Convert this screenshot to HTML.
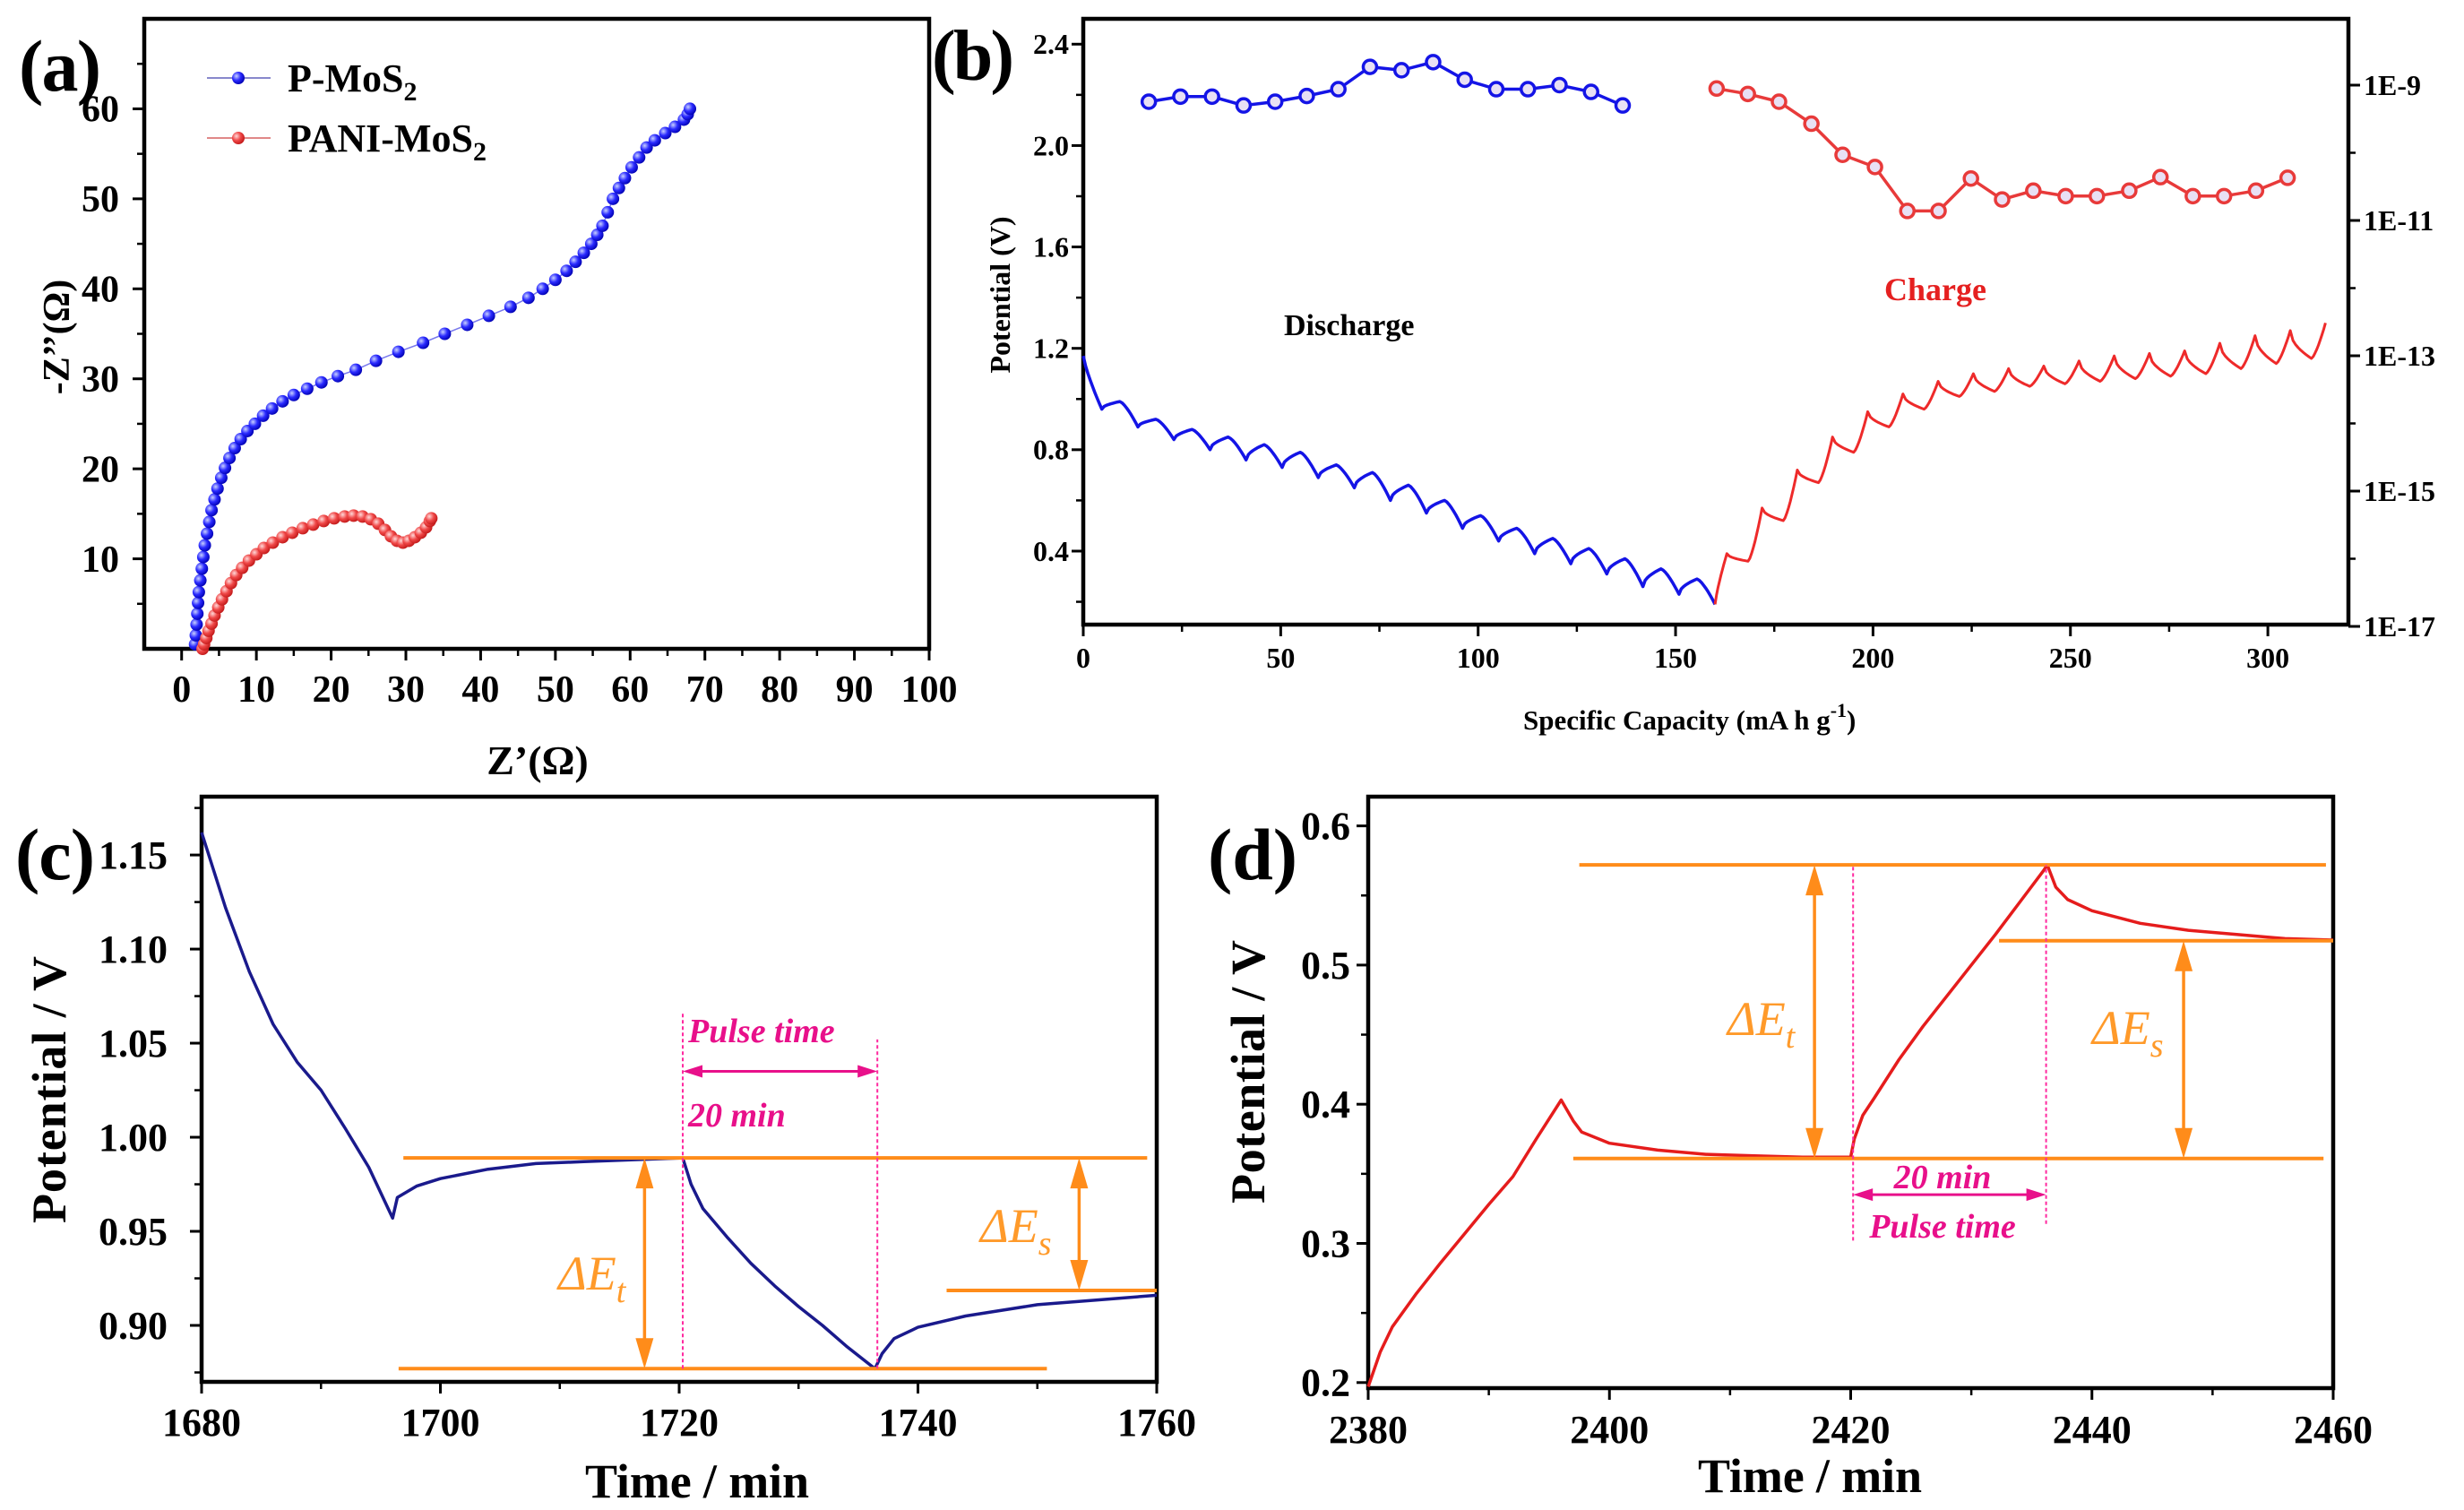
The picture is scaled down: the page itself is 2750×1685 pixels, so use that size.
<!DOCTYPE html>
<html><head><meta charset="utf-8"><style>
html,body{margin:0;padding:0;background:#fff;}
svg{display:block;}
text{font-family:"Liberation Serif",serif;}
</style></head><body>
<svg id="fig" xmlns="http://www.w3.org/2000/svg" width="2750" height="1685" viewBox="0 0 2750 1685">
<rect width="2750" height="1685" fill="#fff"/>
<defs>
<radialGradient id="gb" cx="0.35" cy="0.35" r="0.7"><stop offset="0" stop-color="#c8d0ff"/><stop offset="0.5" stop-color="#2a2aff"/><stop offset="1" stop-color="#0000b0"/></radialGradient>
<radialGradient id="gr" cx="0.35" cy="0.35" r="0.7"><stop offset="0" stop-color="#ffd8d8"/><stop offset="0.5" stop-color="#f04848"/><stop offset="1" stop-color="#c01818"/></radialGradient>
</defs>
</svg>
<script>
// ---------- Panel (a) data ----------
const aBlueX=[1.8,1.9,2.0,2.1,2.2,2.3,2.5,2.7,2.9,3.1,3.4,3.7,4.0,4.4,4.8,5.3,5.8,6.4,7.1,7.9,8.8,9.8,10.9,12.1,13.5,15.0,16.8,18.7,20.9,23.3,26.0,29.0,32.3,35.2,38.2,41.1,44.0,46.4,48.3,50.0,51.5,52.7,53.8,54.8,55.6,56.3,57.0,57.7,58.5,59.3,60.2,61.2,62.2,63.3,64.7,66.0,67.2,67.7,68.0];
const aBlueY=[0.5,1.5,2.7,3.9,5.1,6.3,7.6,8.9,10.2,11.5,12.8,14.1,15.4,16.6,17.8,19.0,20.1,21.2,22.3,23.3,24.2,25.0,25.9,26.7,27.5,28.2,28.9,29.6,30.3,31.0,32.0,33.0,34.0,35.0,36.0,37.0,38.0,39.0,40.0,41.0,42.0,43.0,44.0,45.0,46.0,47.0,48.5,50.0,51.2,52.3,53.5,54.6,55.7,56.5,57.3,58.0,58.8,59.4,60.0];
const aRedX=[2.8,3.0,3.3,3.6,4.0,4.4,4.9,5.4,6.0,6.6,7.3,8.1,9.0,10.0,11.0,12.2,13.5,14.8,16.2,17.6,19.0,20.4,21.8,23.0,24.2,25.3,26.3,27.2,28.0,28.8,29.6,30.4,31.2,32.0,32.7,33.2,33.4];
const aRedY=[0,0.5,1.2,2.0,2.8,3.7,4.6,5.5,6.4,7.3,8.2,9.0,9.8,10.5,11.2,11.8,12.4,12.9,13.4,13.8,14.2,14.5,14.7,14.8,14.7,14.4,13.9,13.2,12.5,12.0,11.8,12.0,12.4,12.9,13.5,14.2,14.5];
const aXTicks=[0,10,20,30,40,50,60,70,80,90,100];
const aYTicks=[10,20,30,40,50,60];
// ---------- Panel (b) data ----------
const bDisTrough=[0.96,0.89,0.84,0.80,0.76,0.73,0.69,0.65,0.60,0.55,0.49,0.44,0.39,0.35,0.31,0.26,0.23,0.19];
const bDisRelax=[0.99,0.92,0.88,0.85,0.82,0.79,0.74,0.71,0.66,0.60,0.54,0.49,0.45,0.41,0.37,0.33,0.29];
const bChgPeak=[0.39,0.57,0.72,0.85,0.95,1.02,1.07,1.10,1.12,1.13,1.15,1.17,1.18,1.19,1.22,1.25,1.27,1.30];
const bChgRelax=[0.36,0.52,0.67,0.79,0.89,0.96,1.01,1.03,1.05,1.06,1.07,1.08,1.09,1.10,1.12,1.14,1.16];
const bDisCap=[16.6,24.6,32.6,40.6,48.6,56.6,64.6,72.6,80.6,88.6,96.6,104.6,112.6,120.6,128.6,136.6];
const bDisLogD=[-9.245,-9.17,-9.17,-9.30,-9.245,-9.16,-9.06,-8.73,-8.78,-8.66,-8.92,-9.06,-9.06,-9.00,-9.10,-9.30];
const bChgCap=[160.4,168.3,176.2,184.4,192.3,200.5,208.7,216.6,224.8,232.7,240.6,248.8,256.7,264.9,272.8,281.0,288.9,297.0,305.0];
const bChgLogD=[-9.05,-9.13,-9.245,-9.57,-10.03,-10.21,-10.86,-10.86,-10.38,-10.69,-10.56,-10.64,-10.64,-10.56,-10.36,-10.64,-10.64,-10.56,-10.37];
const bXTicks=[0,50,100,150,200,250,300];
const bYTicks=[0.4,0.8,1.2,1.6,2.0,2.4];
const bYTickLabels=["0.4","0.8","1.2","1.6","2.0","2.4"];
const bLogTicks=[-17,-15,-13,-11,-9];
const bLogLabels=["1E-17","1E-15","1E-13","1E-11","1E-9"];
// ---------- Panel (c) data ----------
const cTime=[1680,1682,1684,1686,1688,1690,1692,1694,1696,1696.4,1698,1700,1704,1708,1712,1716,1720.3,1721,1722,1724,1726,1728,1730,1732,1734,1736.4,1737,1738,1740,1744,1750,1756,1760];
const cVolt=[1.162,1.122,1.088,1.06,1.04,1.025,1.005,0.984,0.957,0.968,0.974,0.978,0.983,0.986,0.987,0.988,0.989,0.975,0.962,0.947,0.933,0.921,0.910,0.900,0.889,0.877,0.885,0.893,0.899,0.905,0.911,0.914,0.916];
const cXTicks=[1680,1700,1720,1740,1760];
const cYTicks=[0.90,0.95,1.00,1.05,1.10,1.15];
const cYTickLabels=["0.90","0.95","1.00","1.05","1.10","1.15"];
// ---------- Panel (d) data ----------
const dTime=[2380,2381,2382,2384,2386,2388,2390,2392,2394,2396,2397,2397.7,2400,2404,2408,2412,2416,2420,2420.3,2421,2422,2424,2426,2428,2430,2432,2434,2436,2436.3,2437,2438,2440,2444,2448,2452,2456,2460];
const dVolt=[0.197,0.222,0.240,0.264,0.286,0.307,0.328,0.348,0.376,0.403,0.388,0.380,0.372,0.367,0.364,0.363,0.362,0.362,0.375,0.392,0.405,0.432,0.456,0.478,0.500,0.522,0.545,0.568,0.572,0.556,0.547,0.539,0.530,0.525,0.522,0.519,0.518];
const dXTicks=[2380,2400,2420,2440,2460];
const dYTicks=[0.2,0.3,0.4,0.5,0.6];

const NS='http://www.w3.org/2000/svg';
const svg=document.getElementById('fig');
function mk(tag,attrs,parent){const e=document.createElementNS(NS,tag);for(const k in attrs)e.setAttribute(k,attrs[k]);parent.appendChild(e);return e;}
function lin(d0,d1,r0,r1){return v=>r0+(v-d0)*(r1-r0)/(d1-d0);}
function pathFrom(xs,ys,X,Y){return xs.map((x,i)=>(i?'L':'M')+X(x).toFixed(1)+' '+Y(ys[i]).toFixed(1)).join(' ');}
function text(parent,str,attrs){const t=mk('text',attrs,parent);t.textContent=str;return t;}

function axisBox(g,x0,x1,y0,y1){
  const r=mk('rect',{x:x0,y:y0,width:x1-x0,height:y1-y0,fill:'none',stroke:'#000','stroke-width':4.5},g);
  
  
}
function xTicks(g,X,yb,vals,labels,fs,base,minor){
  vals.forEach((v,i)=>{
    const l=mk('line',{x1:X(v),x2:X(v),y1:yb,y2:yb+13,stroke:'#000','stroke-width':3},g);
    
    
    if(labels){const t=text(g,labels[i],{x:X(v),y:base,'text-anchor':'middle','font-size':fs,'font-weight':'bold'});
    
    }
  });
  (minor||[]).forEach(v=>{const l=mk('line',{x1:X(v),x2:X(v),y1:yb,y2:yb+8,stroke:'#000','stroke-width':2.5},g);
    
    });
}
function yTicks(g,Y,xl,vals,labels,fs,endX,minor,dir){
  dir=dir||-1;
  vals.forEach((v,i)=>{
    const l=mk('line',{x1:xl,x2:xl+dir*13,y1:Y(v),y2:Y(v),stroke:'#000','stroke-width':3},g);
    
    
    if(labels){const t=text(g,labels[i],{x:endX,y:Y(v)+fs*0.34,'text-anchor':dir<0?'end':'start','font-size':fs,'font-weight':'bold'});
    
    }
  });
  (minor||[]).forEach(v=>{const l=mk('line',{x1:xl,x2:xl+dir*8,y1:Y(v),y2:Y(v),stroke:'#000','stroke-width':2.5},g);
    
    });
}
function range(a,b,s){const r=[];for(let v=a;v<=b+1e-9;v+=s)r.push(+v.toFixed(4));return r;}

// ================= Panel A =================
(function(){
  const g=mk('g',{},svg);
  
  
  const X=lin(-5,100,161,1037),Y=lin(0,70,724,21);
  axisBox(g,161,1037,21,724);
  xTicks(g,X,724,aXTicks,aXTicks.map(String),42,783,range(5,95,10));
  yTicks(g,Y,161,aYTicks,aYTicks.map(String),42,133,range(5,65,5).filter(v=>v%10));
  const series=[[aBlueX,aBlueY,'url(#gb)','#2020e0','p-mos2'],[aRedX,aRedY,'url(#gr)','#e03030','pani-mos2']];
  series.forEach(s=>{
    const sg=mk('g',{},g);
    
    
    const p=mk('path',{d:pathFrom(s[0],s[1],X,Y),fill:'none',stroke:s[3],'stroke-width':1.5,opacity:0.6},sg);
    
    
    s[0].forEach((x,i)=>{const c=mk('circle',{cx:X(x),cy:Y(s[1][i]),r:7,fill:s[2]},sg);
      
      });
  });
  [[87,'url(#gb)','#8888cc','P-MoS','legend-p-mos2'],[154,'url(#gr)','#e08888','PANI-MoS','legend-pani-mos2']].forEach(L=>{
    const lg=mk('g',{},g);
    
    
    mk('line',{x1:231,x2:302,y1:L[0],y2:L[0],stroke:L[2],'stroke-width':2},lg);
    mk('circle',{cx:266,cy:L[0],r:7,fill:L[1]},lg);
    const t=text(lg,L[3],{x:321,y:L[0]+15,'font-size':44,'font-weight':'bold'});
    const sub=mk('tspan',{dy:10,'font-size':30},t);sub.textContent='2';
  });
  const xt=text(g,'Z’(Ω)',{x:600,y:864,'text-anchor':'middle','font-size':46,'font-weight':'bold'});
  
  
  const yt=text(g,'-Z’’(Ω)',{x:0,y:0,'text-anchor':'middle','font-size':42,'font-weight':'bold',transform:'translate(77,376) rotate(-90)'});
  
  
  const pl=text(g,'(a)',{x:21,y:101,'font-size':82,'font-weight':'bold',textLength:92});
  
  
})();

// zigzag: ext1[k] at x=firstX+k*w, ext2[k] at x=firstX+(k+frac)*w
function zigzag(X,Y,startX,startV,firstX,w,ext1,ext2,frac){
  let d='M'+X(startX).toFixed(1)+' '+Y(startV).toFixed(1);
  for(let j=1;j<=8;j++){const t=j/8;d+=' L'+X(startX+(firstX-startX)*t).toFixed(1)+' '+Y(startV+(ext1[0]-startV)*Math.pow(t,0.8)).toFixed(1);}
  for(let k=0;k<ext2.length;k++){
    const x0=firstX+k*w,v0=ext1[k],v1=ext2[k],v2=ext1[k+1];
    for(let j=1;j<=8;j++){const t=j/8;d+=' L'+X(x0+frac*w*t).toFixed(1)+' '+Y(v0+(v1-v0)*Math.sqrt(t)).toFixed(1);}
    for(let j=1;j<=8;j++){const t=j/8;d+=' L'+X(x0+frac*w+(1-frac)*w*t).toFixed(1)+' '+Y(v1+(v2-v1)*Math.pow(t,1.4)).toFixed(1);}
  }
  return d;
}

// ================= Panel B =================
(function(){
  const g=mk('g',{},svg);
  
  
  const X=lin(0,320.4,1209,2621),Y=lin(0.11,2.50,697,21),L=lin(-17,-9,699,95);
  axisBox(g,1209,2621,21,697);
  xTicks(g,X,697,bXTicks,bXTicks.map(String),32,745,range(25,300,50));
  yTicks(g,Y,1209,bYTicks,bYTickLabels,32,1193,range(0.2,2.4,0.4));
  yTicks(g,L,2621,bLogTicks,bLogLabels,32,2638,[-16,-14,-12,-10],1);
  const wd=(160-4.7)/(bDisTrough.length-1);
  const pd=mk('path',{d:zigzag(X,Y,0,1.17,4.7,wd,bDisTrough,bDisRelax,0.5),fill:'none',stroke:'#1414e6','stroke-width':3.5,'stroke-linejoin':'round'},g);
  
  
  const wc=(314.6-163)/(bChgPeak.length-1);
  const pc=mk('path',{d:zigzag(X,Y,160,0.19,163,wc,bChgPeak,bChgRelax,0.6),fill:'none',stroke:'#ee2a2a','stroke-width':3,'stroke-linejoin':'round'},g);
  
  
  [[bDisCap,bDisLogD,'#1414e6','discharge-diffusion'],[bChgCap,bChgLogD,'#e83a3a','charge-diffusion']].forEach(s=>{
    const sg=mk('g',{},g);
    
    
    mk('path',{d:pathFrom(s[0],s[1],X,L),fill:'none',stroke:s[2],'stroke-width':3.5},sg);
    s[0].forEach((x,i)=>{const c=mk('circle',{cx:X(x),cy:L(s[1][i]),r:7.5,fill:'#e8e0f4',stroke:s[2],'stroke-width':3.5},sg);
      
      });
  });
  const t1=text(g,'Discharge',{x:1433,y:374,'font-size':34,'font-weight':'bold'});
  
  
  const t2=text(g,'Charge',{x:2103,y:335,'font-size':36,'font-weight':'bold',fill:'#e52020'});
  
  
  const xt=text(g,'Specific Capacity (mA h g',{x:1700,y:814,'font-size':31,'font-weight':'bold'});
  const sp=mk('tspan',{dy:-14,'font-size':22},xt);sp.textContent='-1';
  const sp2=mk('tspan',{dy:14},xt);sp2.textContent=')';
  
  
  const yt=text(g,'Potential (V)',{x:0,y:0,'text-anchor':'middle','font-size':32,'font-weight':'bold',transform:'translate(1127,329) rotate(-90)'});
  
  
  const pl=text(g,'(b)',{x:1040,y:89,'font-size':80,'font-weight':'bold',textLength:92});
  
  
})();

function arrowV(g,x,y1,y2,col,name){
  const a=mk('g',{},g);
  
  
  mk('line',{x1:x,x2:x,y1:y1+20,y2:y2-20,stroke:col,'stroke-width':3.5},a);
  mk('polygon',{points:`${x},${y1} ${x-10},${y1+34} ${x+10},${y1+34}`,fill:col},a);
  mk('polygon',{points:`${x},${y2} ${x-10},${y2-34} ${x+10},${y2-34}`,fill:col},a);
}
function arrowH(g,x1,x2,y,col,name){
  const a=mk('g',{},g);
  
  
  mk('line',{x1:x1+10,x2:x2-10,y1:y,y2:y,stroke:col,'stroke-width':3},a);
  mk('polygon',{points:`${x1},${y} ${x1+22},${y-7} ${x1+22},${y+7}`,fill:col},a);
  mk('polygon',{points:`${x2},${y} ${x2-22},${y-7} ${x2-22},${y+7}`,fill:col},a);
}
function hline(g,X,Y,xa,xb,v,name){
  const l=mk('line',{x1:X(xa),x2:X(xb),y1:Y(v),y2:Y(v),stroke:'#ff8c1a','stroke-width':4},g);
  
  
}
function vdash(g,X,Y,x,va,vb,name){
  const l=mk('line',{x1:X(x),x2:X(x),y1:Y(va),y2:Y(vb),stroke:'#ff2aa0','stroke-width':2,'stroke-dasharray':'4 3'},g);
  
  
}
function dlabel(g,x,y,sub,name){
  const t=text(g,'ΔE',{x:x,y:y,'font-size':54,'font-style':'italic',fill:'#ff9a2a'});
  const s=mk('tspan',{dy:14,'font-size':38},t);s.textContent=sub;
  
  
}
function mlabel(g,str,x,y,anchor,name){
  const t=text(g,str,{x:x,y:y,'font-size':38,'font-style':'italic','font-weight':'bold',fill:'#e8108a','text-anchor':anchor});
  
  
}

// ================= Panel C =================
(function(){
  const g=mk('g',{},svg);
  
  
  const X=lin(1680,1760,225,1291),Y=lin(0.870,1.181,1542,889);
  axisBox(g,225,1291,889,1542);
  xTicks(g,X,1542,cXTicks,cXTicks.map(String),44,1602,range(1690,1750,20));
  yTicks(g,Y,225,cYTicks,cYTickLabels,44,187,range(0.875,1.175,0.05));
  const p=mk('path',{d:pathFrom(cTime,cVolt,X,Y),fill:'none',stroke:'#1a1a8c','stroke-width':3.5,'stroke-linejoin':'round'},g);
  
  
  hline(g,X,Y,1696.9,1759.2,0.989,'top-reference-line');
  hline(g,X,Y,1696.5,1750.8,0.877,'bottom-reference-line');
  hline(g,X,Y,1742.4,1760,0.9186,'relaxed-reference-line');
  vdash(g,X,Y,1720.3,0.877,1.066,'pulse-start-line');
  vdash(g,X,Y,1736.6,0.877,1.052,'pulse-end-line');
  arrowH(g,X(1720.3),X(1736.6),Y(1.035),'#e8108a','pulse-time-arrow');
  arrowV(g,X(1717.1),Y(0.989),Y(0.877),'#ff8c1a','delta-et-arrow');
  arrowV(g,X(1753.5),Y(0.989),Y(0.9186),'#ff8c1a','delta-es-arrow');
  dlabel(g,623,1439,'t','delta-et-label');
  dlabel(g,1094,1386,'s','delta-es-label');
  mlabel(g,'Pulse time',768,1163,'start','pulse-time-label');
  mlabel(g,'20 min',768,1257,'start','pulse-duration-label');
  const xt=text(g,'Time / min',{x:778,y:1671,'text-anchor':'middle','font-size':54,'font-weight':'bold',textLength:250});
  
  
  const yt=text(g,'Potential  / V',{x:0,y:0,'text-anchor':'middle','font-size':54,'font-weight':'bold',transform:'translate(73,1216) rotate(-90)',textLength:298});
  
  
  const pl=text(g,'(c)',{x:17,y:981,'font-size':82,'font-weight':'bold',textLength:89});
  
  
})();

// ================= Panel D =================
(function(){
  const g=mk('g',{},svg);
  
  
  const X=lin(2380,2460,1527,2604),Y=lin(0.196,0.621,1549,889);
  axisBox(g,1527,2604,889,1549);
  xTicks(g,X,1549,dXTicks,dXTicks.map(String),44,1610,range(2390,2450,20));
  yTicks(g,Y,1527,dYTicks,dYTicks.map(v=>v.toFixed(1)),44,1507,range(0.25,0.55,0.1));
  const p=mk('path',{d:pathFrom(dTime,dVolt,X,Y),fill:'none',stroke:'#e51c1c','stroke-width':3.5,'stroke-linejoin':'round'},g);
  
  
  hline(g,X,Y,2397.5,2459.4,0.572,'top-reference-line');
  hline(g,X,Y,2397,2459.2,0.361,'bottom-reference-line');
  hline(g,X,Y,2432.3,2460,0.5175,'relaxed-reference-line');
  vdash(g,X,Y,2420.2,0.302,0.572,'pulse-start-line');
  vdash(g,X,Y,2436.2,0.314,0.572,'pulse-end-line');
  arrowH(g,X(2420.2),X(2436.2),Y(0.335),'#e8108a','pulse-time-arrow');
  arrowV(g,X(2417),Y(0.572),Y(0.361),'#ff8c1a','delta-et-arrow');
  arrowV(g,X(2447.6),Y(0.5175),Y(0.361),'#ff8c1a','delta-es-arrow');
  dlabel(g,1928,1155,'t','delta-et-label');
  dlabel(g,2335,1165,'s','delta-es-label');
  mlabel(g,'20 min',2168,1326,'middle','pulse-duration-label');
  mlabel(g,'Pulse time',2168,1381,'middle','pulse-time-label');
  const xt=text(g,'Time / min',{x:2020,y:1665,'text-anchor':'middle','font-size':54,'font-weight':'bold',textLength:250});
  
  
  const yt=text(g,'Potential  / V',{x:0,y:0,'text-anchor':'middle','font-size':54,'font-weight':'bold',transform:'translate(1411,1196) rotate(-90)',textLength:294});
  
  
  const pl=text(g,'(d)',{x:1348,y:981,'font-size':82,'font-weight':'bold',textLength:100});
  
  
})();
</script>
</body></html>
